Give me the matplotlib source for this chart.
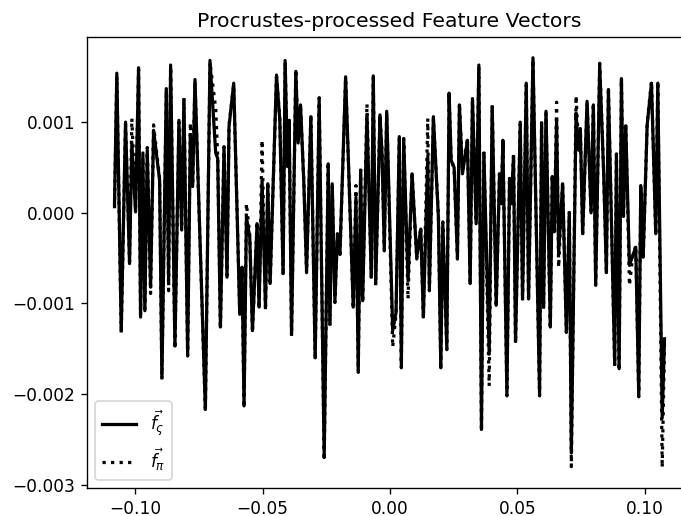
import numpy as np
import matplotlib
matplotlib.use("Agg")
import matplotlib.pyplot as plt

# feature coordinate (x) and the two processed vectors (y, in units of 1e-3)
x = [-0.10806, -0.10715, -0.10542, -0.10373, -0.10216, -0.10126, -0.09980, -0.09862,
     -0.09784, -0.09693, -0.09615, -0.09521, -0.09391, -0.09273, -0.09037, -0.08947,
     -0.08774, -0.08684, -0.08605, -0.08436, -0.08279, -0.08173, -0.08083, -0.07937,
     -0.07831, -0.07741, -0.07650, -0.07242, -0.07061, -0.06837, -0.06758, -0.06652,
     -0.06511, -0.06393, -0.06314, -0.06130, -0.05894, -0.05804, -0.05725, -0.05631,
     -0.05501, -0.05395, -0.05214, -0.05136, -0.05018, -0.04884, -0.04794, -0.04703,
     -0.04452, -0.04322, -0.04193, -0.04114, -0.04020, -0.03957, -0.03862, -0.03694,
     -0.03603, -0.03509, -0.03379, -0.03273, -0.03104, -0.02935, -0.02778, -0.02582,
     -0.02424, -0.02358, -0.02267, -0.02161, -0.02063, -0.01965, -0.01741, -0.01442,
     -0.01336, -0.01246, -0.01151, -0.01073, -0.00904, -0.00735, -0.00656, -0.00562,
     -0.00393, -0.00314, -0.00224, -0.00130, 0.00106, 0.00236, 0.00365, 0.00444,
     0.00538, 0.00707, 0.00864, 0.01049, 0.01206, 0.01308, 0.01481, 0.01544,
     0.01701, 0.01898, 0.01992, 0.02071, 0.02228, 0.02318, 0.02397, 0.02515,
     0.02644, 0.02723, 0.02841, 0.03037, 0.03143, 0.03234, 0.03379, 0.03485,
     0.03587, 0.03682, 0.03890, 0.04008, 0.04165, 0.04295, 0.04361, 0.04428,
     0.04585, 0.04688, 0.04754, 0.04845, 0.04923, 0.05108, 0.05198, 0.05344,
     0.05434, 0.05607, 0.05866, 0.05945, 0.06024, 0.06118, 0.06287, 0.06365,
     0.06444, 0.06534, 0.06613, 0.06770, 0.06916, 0.07033, 0.07112, 0.07297,
     0.07399, 0.07466, 0.07556, 0.07729, 0.07886, 0.07976, 0.08067, 0.08224,
     0.08381, 0.08487, 0.08566, 0.08813, 0.08880, 0.08986, 0.09077, 0.09155,
     0.09246, 0.09391, 0.09509, 0.09639, 0.09756, 0.09835, 0.09929, 0.10086,
     0.10255, 0.10424, 0.10503, 0.10676, 0.10766]

f_sigma = [0.10, 1.54, -1.30, 1.00, -0.56, 0.77, 0.01, 1.60,
           -1.15, 0.62, -1.08, 0.69, -0.82, 0.91, 0.36, -1.82,
           1.37, -0.75, 1.63, -1.47, 1.02, -0.19, 1.25, -1.56,
           0.86, 0.29, 1.47, -2.17, 1.68, 0.66, 0.60, -1.26,
           0.71, -0.71, 0.95, 1.43, -1.12, -0.60, -2.13, -0.05,
           -0.27, -1.30, -0.12, -1.04, 0.36, -1.04, 0.32, -0.78,
           1.52, 1.02, -0.67, 1.68, 0.51, 1.02, -1.34, 1.56,
           0.77, 1.19, 0.32, -0.64, 1.06, -1.60, 1.25, -2.70,
           0.54, -1.23, 0.32, -0.97, -0.25, -0.46, 1.50, -1.04,
           0.17, -1.74, 0.47, -0.97, 1.08, -0.71, 1.51, -0.78,
           1.06, 0.66, -0.40, 1.12, -1.30, -1.10, 0.84, -1.69,
           0.80, -0.75, 0.43, -0.49, -0.18, -1.15, 0.62, -0.84,
           1.06, -0.05, -1.71, -0.12, -1.49, 1.32, 0.58, 0.50,
           -0.49, 1.19, 0.43, 0.80, -0.78, 1.26, -0.12, 1.63,
           -2.39, 0.66, -1.56, 1.17, -1.02, 0.43, 0.10, 0.78,
           -2.00, 0.38, 0.10, 0.62, -1.42, 1.00, -0.95, 1.43,
           -0.95, 1.71, -2.00, 0.99, -1.04, 1.12, -1.26, 0.40,
           -0.21, 1.02, -0.45, 0.32, -1.30, 0.00, -2.65, 1.10,
           0.69, 0.91, -0.23, 1.23, 0.00, 1.19, -0.78, 1.63,
           0.43, -0.66, 1.36, -1.67, 0.63, -1.72, 1.48, -0.04,
           0.96, -0.58, -0.48, -0.38, -2.01, 0.28, -0.49, 0.97,
           1.43, -0.23, 1.43, -2.26, -1.39]

f_pi = [0.05, 1.50, -1.33, 0.98, -0.54, 1.04, 0.03, 1.58,
        -1.13, 0.66, -1.06, 0.72, -0.89, 0.97, 0.38, -1.84,
        1.35, -0.86, 1.61, -1.50, 1.00, -0.17, 1.27, -1.58,
        0.99, 0.31, 1.45, -2.19, 1.66, 1.15, 0.62, -1.28,
        0.73, -0.69, 0.97, 1.41, -1.10, -0.62, -2.15, 0.10,
        -0.25, -1.32, -0.10, -1.06, 0.80, -1.08, 0.34, -0.80,
        1.50, 1.04, -0.69, 1.66, 0.53, 1.04, -1.36, 1.58,
        0.80, 1.17, 0.34, -0.66, 1.08, -1.62, 1.27, -2.73,
        0.56, -1.25, 0.30, -0.99, -0.23, -0.48, 1.48, -1.06,
        0.30, -1.76, 0.49, -0.99, 1.20, -0.73, 1.49, -0.80,
        1.08, 0.68, -0.42, 1.10, -1.48, -1.12, 0.82, -1.71,
        0.82, -0.95, 0.45, -0.51, -0.16, -1.17, 1.04, -0.86,
        1.04, -0.03, -1.73, -0.10, -1.51, 1.30, 0.60, 0.48,
        -0.51, 1.21, 0.45, 0.82, -0.80, 1.24, -0.10, 1.61,
        -2.41, 0.68, -1.91, 1.19, -1.04, 0.45, 0.12, 0.80,
        -2.02, 0.40, 0.12, 0.64, -1.44, 0.98, -0.97, 1.41,
        -0.97, 1.69, -2.02, 1.01, -1.06, 1.10, -1.28, 0.42,
        -0.19, 1.22, -0.60, 0.34, -1.32, 0.02, -2.80, 1.29,
        0.71, 0.93, -0.25, 1.21, 0.02, 1.21, -0.80, 1.65,
        0.45, -0.68, 1.38, -1.69, 0.65, -1.74, 1.46, -0.06,
        0.98, -0.80, -0.50, -0.36, -2.03, 0.30, -0.51, 0.99,
        1.45, -0.25, 1.45, -2.81, -1.45]

x = np.array(x)
f_sigma = np.array(f_sigma) * 1e-3
f_pi = np.array(f_pi) * 1e-3

dpi = 122
fig = plt.figure(figsize=(681 / dpi, 516 / dpi), dpi=dpi)
# axes runs a little past the right edge, as in the reference
ax = fig.add_axes([87 / 681, 28 / 516, 605 / 681, 450.7 / 516])

ax.plot(x, f_sigma, color='black', linestyle='-', linewidth=1.9,
        label=r'$\vec{f_\varsigma}$')
ax.plot(x, f_pi, color='black', linestyle=':', linewidth=1.9,
        label=r'$\vec{f_\pi}$')

ax.set_title('Procrustes-processed Feature Vectors')
ax.set_xticks([-0.10, -0.05, 0.00, 0.05, 0.10])
ax.set_yticks([-0.003, -0.002, -0.001, 0.000, 0.001])
ax.legend(loc='lower left')

fig.savefig('out.png', dpi=dpi)
